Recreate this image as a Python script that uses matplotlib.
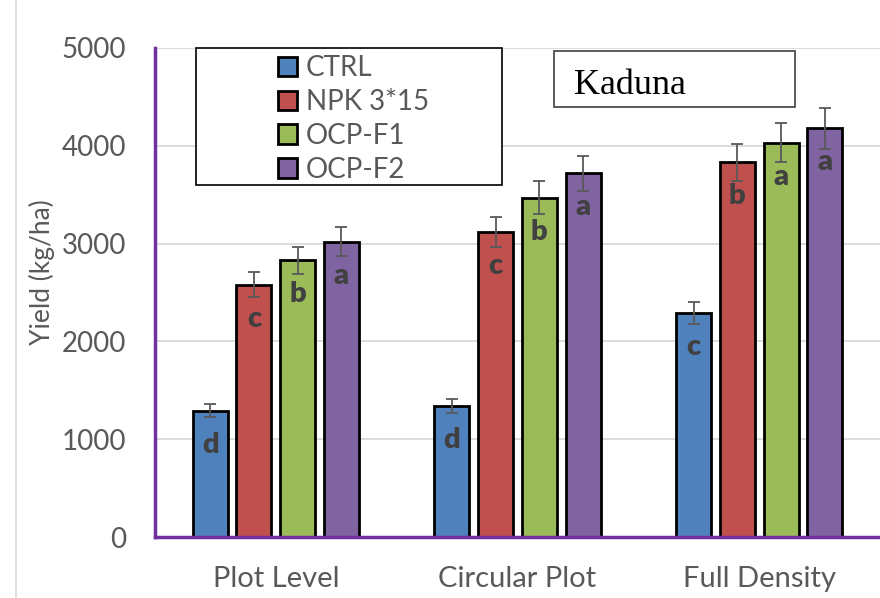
import numpy as np
import matplotlib.pyplot as plt
from matplotlib.patches import Rectangle, Patch
from matplotlib.lines import Line2D

# yield by planting layout and fertilizer treatment
groups = ['Plot Level', 'Circular Plot', 'Full Density']
treatments = ['CTRL', 'NPK 3*15', 'OCP-F1', 'OCP-F2']

ctrl = [1290, 1340, 2290]
npk = [2580, 3120, 3830]
ocp_f1 = [2830, 3470, 4030]
ocp_f2 = [3020, 3720, 4180]

ctrl_err = [65, 70, 115]
npk_err = [130, 150, 190]
ocp_f1_err = [140, 170, 200]
ocp_f2_err = [150, 180, 210]

# mean separation letters
ctrl_let = ['d', 'd', 'c']
npk_let = ['c', 'c', 'b']
ocp_f1_let = ['b', 'b', 'a']
ocp_f2_let = ['a', 'a', 'a']

colors = ['#4F81BD', '#C0504D', '#9BBB59', '#8064A2']
purple = '#7030A0'
txt_gray = '#595959'

plt.rcParams['font.family'] = ['Lato', 'DejaVu Sans']

fig = plt.figure(figsize=(8.8, 5.98), dpi=100)
ax = fig.add_axes([155/880, 61/598, 725/880, 489/598])

x = np.arange(len(groups))
pitch = 0.181
width = 0.145

series = [ctrl, npk, ocp_f1, ocp_f2]
errs = [ctrl_err, npk_err, ocp_f1_err, ocp_f2_err]
letters = [ctrl_let, npk_let, ocp_f1_let, ocp_f2_let]

for i in range(4):
    xs = x + (i - 1.5) * pitch
    ax.bar(xs, series[i], width, color=colors[i], edgecolor='black', linewidth=2, zorder=2)
    ax.errorbar(xs, series[i], yerr=errs[i], fmt='none', ecolor=txt_gray,
                elinewidth=1.3, capsize=4.5, capthick=1.3, zorder=3)
    for xi, v, lt in zip(xs, series[i], letters[i]):
        ax.annotate(lt, (xi, v), xytext=(0, -24.5), textcoords='offset points',
                    ha='center', va='center', fontsize=21, fontweight='heavy',
                    color='#404040', zorder=4)

ax.set_xlim(-0.5, 2.5)
ax.set_ylim(0, 5000)
ax.set_yticks([0, 1000, 2000, 3000, 4000, 5000])
ax.set_xticks(x)
ax.set_xticklabels(groups)
ax.tick_params(axis='both', length=0, labelcolor=txt_gray)
ax.tick_params(axis='y', labelsize=20, pad=21)
ax.tick_params(axis='x', labelsize=21, pad=21)
ax.yaxis.grid(True, color='#d9d9d9', linewidth=1.3, zorder=0)
ax.set_axisbelow(True)

for s in ['top', 'right']:
    ax.spines[s].set_visible(False)
for s in ['left', 'bottom']:
    ax.spines[s].set_color(purple)
    ax.spines[s].set_linewidth(2.5)

fig.text(42/880, 1 - 272/598, 'Yield (kg/ha)', rotation=90, ha='center', va='center',
         fontsize=19, color=txt_gray)

# legend box
ax.add_patch(Rectangle((0.0561, 0.7198), 0.4221, 0.2808, transform=ax.transAxes,
                       facecolor='white', edgecolor='black', linewidth=1.2,
                       clip_on=False, zorder=5))
handles = [Patch(facecolor=c, edgecolor='black', linewidth=2) for c in colors]
leg = ax.legend(handles, treatments, loc='upper left', bbox_to_anchor=(0.1697, 0.985),
                frameon=False, fontsize=20, handlelength=0.7, handleheight=0.7,
                handletextpad=0.3, labelspacing=0.28, borderpad=0, borderaxespad=0)
leg.set_zorder(6)
for t in leg.get_texts():
    t.set_color(txt_gray)

# site label
ax.add_patch(Rectangle((0.550, 0.880), 0.333, 0.1145, transform=ax.transAxes,
                       facecolor='white', edgecolor='#404040', linewidth=1.2,
                       clip_on=False, zorder=5))
ax.text((574 - 155)/725, (537 - 94)/489, 'Kaduna', transform=ax.transAxes,
        family='Liberation Serif', fontsize=26, ha='left', va='baseline', zorder=6)

fig.add_artist(Line2D([16/880, 16/880], [0, 1], color='#d9d9d9', linewidth=1.2))

fig.savefig('out.png', dpi=100)
